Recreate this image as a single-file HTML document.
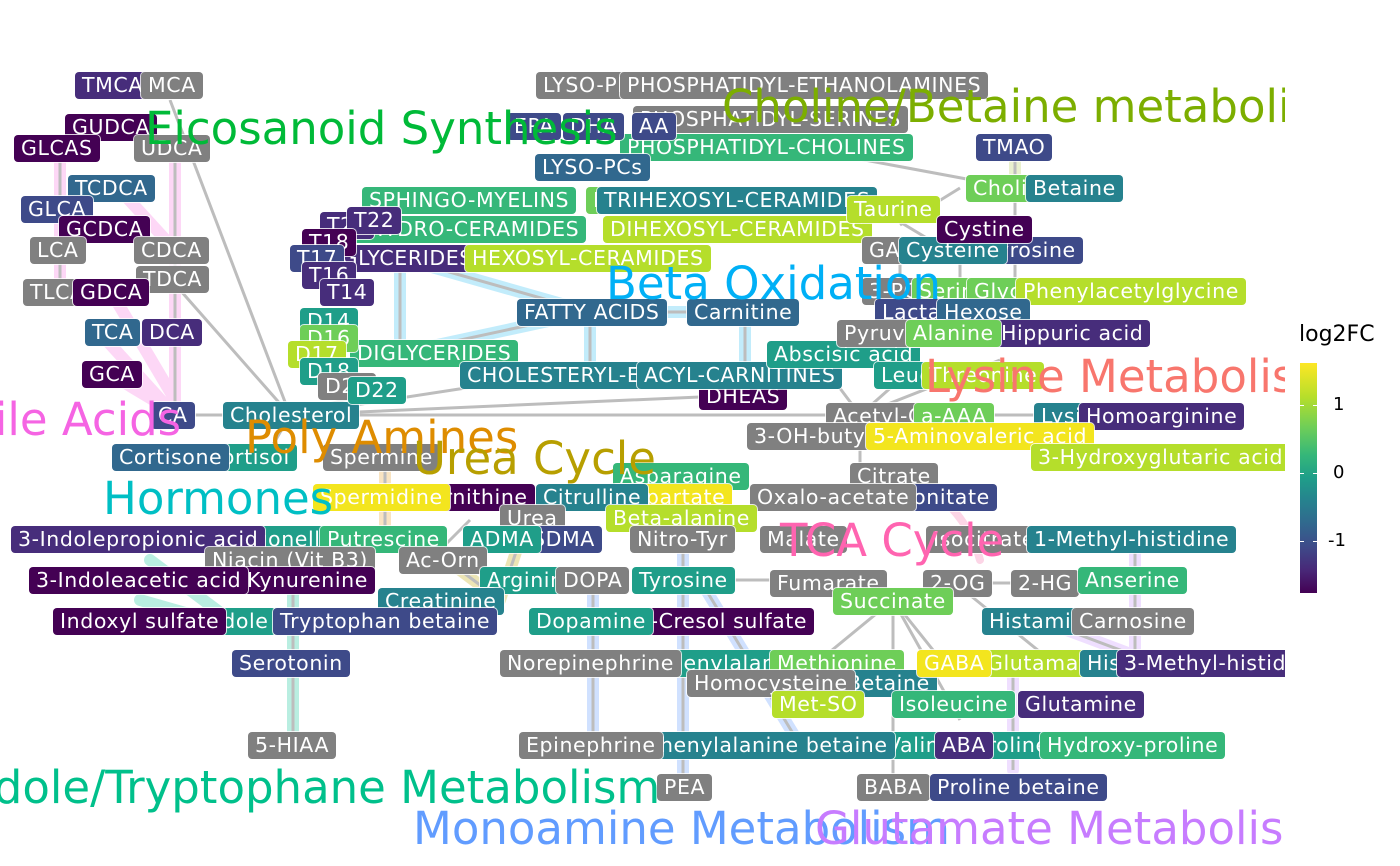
<!DOCTYPE html>
<html><head><meta charset="utf-8"><style>
body{margin:0;width:1400px;height:866px;background:#fff;overflow:hidden;position:relative;font-family:"DejaVu Sans","Liberation Sans",sans-serif}
#plot{position:absolute;left:0;top:0;width:1285px;height:866px;overflow:hidden}
.n{position:absolute;height:27px;line-height:27px;padding:0 7px;color:#fff;font-size:20.5px;letter-spacing:0.6px;border-radius:4px;white-space:nowrap;box-shadow:0 0 0 1px rgba(255,255,255,.8)}
.g{background:#808080}.v0{background:#440154}.v1{background:#472d7b}.v2{background:#3e4a89}.v3{background:#31688e}.v4{background:#26828e}.v5{background:#1f9e89}.v6{background:#35b779}.v7{background:#6ece58}.v8{background:#b5de2b}.v9{background:#f3e51e}
.t{position:absolute;font-size:45px;white-space:nowrap;line-height:1}
</style></head><body>
<div id="plot">
<svg width="1285" height="866" style="position:absolute;left:0;top:0">
<g stroke-linecap="round" fill="none" opacity="0.55">
<g stroke="#fbb6ef" stroke-width="12">
<path d="M60 150V290M175 150V415M120 190L175 250M110 290L175 400M100 333L170 410M110 374L170 410"/>
</g>
<g stroke="#8fdcf7" stroke-width="12">
<path d="M400 258V353M590 312V375M745 312V375M590 312H745M400 258L590 312M400 353L590 312"/>
</g>
<g stroke="#f5cf92" stroke-width="12"><path d="M385 457V540"/></g>
<g stroke="#ddd07a" stroke-width="12"><path d="M420 540L500 600M520 540L500 600"/></g>
<g stroke="#7fe0c8" stroke-width="12"><path d="M293 580V745M150 560L230 620M140 600L210 620"/></g>
<g stroke="#a9c8ff" stroke-width="12"><path d="M593 580V745M683 540V785M700 580L800 745"/></g>
<g stroke="#fbb3d2" stroke-width="8"><path d="M870 470A120 120 0 0 1 980 560"/></g>
<g stroke="#e1c4ff" stroke-width="12"><path d="M1013 660V770M1135 540V665M1040 620L1160 665"/></g>
<g stroke="#d8e6a8" stroke-width="12"><path d="M1015 147V190"/></g>
</g>
<g stroke="#bdbdbd" stroke-width="3" fill="none">
<path d="M60 150V290M175 150V415M170 100L290 415M180 290L290 415M170 415H290M290 415L270 450"/>
<path d="M290 415H860M290 415L550 375M290 415L745 395M290 415L380 390"/>
<path d="M400 258V353M590 312V375M745 312V375M590 312H745M400 258L590 312M400 353L590 312"/>
<path d="M800 148L1015 188M1015 147V320M960 188L900 225M880 210L930 240M900 250V330M960 250V330"/>
<path d="M860 415L905 375M860 415L830 375M860 415L1000 360M860 415H1080M860 415V480"/>
<path d="M385 457V540M420 540L500 600M520 540L500 600M470 520L430 560"/>
<path d="M293 580V745M593 580V745M683 540V785M700 580L800 745M735 580H830"/>
<path d="M893 600V785M893 600L820 660M893 600L945 665M893 600L960 720M955 583L1050 660M1013 660V770M1135 540V665M1040 620L1160 665M960 583H1050"/>
</g>
</svg>

<div class="n v1" style="left:75px;top:72px">TMCA</div>
<div class="n g" style="left:141px;top:72px">MCA</div>
<div class="n v0" style="left:65px;top:114px">GUDCA</div>
<div class="n v0" style="left:14px;top:135px">GLCAS</div>
<div class="n g" style="left:134px;top:135px">UDCA</div>
<div class="n v3" style="left:68px;top:175px">TCDCA</div>
<div class="n v2" style="left:21px;top:196px">GLCA</div>
<div class="n v0" style="left:59px;top:216px">GCDCA</div>
<div class="n g" style="left:30px;top:237px">LCA</div>
<div class="n g" style="left:134px;top:237px">CDCA</div>
<div class="n g" style="left:136px;top:266px">TDCA</div>
<div class="n g" style="left:23px;top:279px">TLCA</div>
<div class="n v0" style="left:73px;top:279px">GDCA</div>
<div class="n v3" style="left:85px;top:319px">TCA</div>
<div class="n v1" style="left:142px;top:319px">DCA</div>
<div class="n v0" style="left:82px;top:361px">GCA</div>
<div class="n v2" style="left:151px;top:402px">CA</div>
<div class="n v4" style="left:223px;top:402px">Cholesterol</div>

<div class="n g" style="left:536px;top:72px">LYSO-PEs</div>
<div class="n g" style="left:620px;top:72px">PHOSPHATIDYL-ETHANOLAMINES</div>
<div class="n g" style="left:633px;top:106px">PHOSPHATIDYL-SERINES</div>
<div class="n v6" style="left:620px;top:134px">PHOSPHATIDYL-CHOLINES</div>
<div class="n v2" style="left:507px;top:113px">EPA</div>
<div class="n v2" style="left:563px;top:113px">DHA</div>
<div class="n v2" style="left:632px;top:113px">AA</div>
<div class="n v3" style="left:535px;top:154px">LYSO-PCs</div>
<div class="n v6" style="left:362px;top:187px">SPHINGO-MYELINS</div>
<div class="n v7" style="left:586px;top:187px">M</div>
<div class="n v4" style="left:597px;top:187px">TRIHEXOSYL-CERAMIDES</div>
<div class="n v6" style="left:338px;top:216px">DIHYDRO-CERAMIDES</div>
<div class="n v8" style="left:603px;top:216px">DIHEXOSYL-CERAMIDES</div>
<div class="n v8" style="left:847px;top:196px">Taurine</div>
<div class="n v1" style="left:300px;top:245px">TRIGLYCERIDES</div>
<div class="n v8" style="left:465px;top:245px">HEXOSYL-CERAMIDES</div>
<div class="n v1" style="left:320px;top:212px">T20</div>
<div class="n v1" style="left:347px;top:207px">T22</div>
<div class="n v0" style="left:302px;top:229px">T18</div>
<div class="n v2" style="left:290px;top:245px">T17</div>
<div class="n v1" style="left:302px;top:262px">T16</div>
<div class="n v1" style="left:320px;top:279px">T14</div>
<div class="n v6" style="left:350px;top:340px">DIGLYCERIDES</div>
<div class="n v5" style="left:300px;top:308px">D14</div>
<div class="n v7" style="left:300px;top:325px">D16</div>
<div class="n v8" style="left:288px;top:341px">D17</div>
<div class="n v5" style="left:300px;top:358px">D18</div>
<div class="n g" style="left:318px;top:373px">D20</div>
<div class="n v5" style="left:348px;top:377px">D22</div>
<div class="n v3" style="left:517px;top:299px">FATTY ACIDS</div>
<div class="n v3" style="left:687px;top:299px">Carnitine</div>
<div class="n v0" style="left:699px;top:383px">DHEAS</div>
<div class="n v4" style="left:460px;top:362px">CHOLESTERYL-ESTERS</div>
<div class="n v4" style="left:637px;top:362px">ACYL-CARNITINES</div>

<div class="n v2" style="left:976px;top:134px">TMAO</div>
<div class="n v7" style="left:966px;top:175px">Choline</div>
<div class="n v4" style="left:1026px;top:175px">Betaine</div>
<div class="n g" style="left:862px;top:237px">GABA</div>
<div class="n v2" style="left:980px;top:237px">Tyrosine</div>
<div class="n v4" style="left:899px;top:237px">Cysteine</div>
<div class="n v0" style="left:937px;top:216px">Cystine</div>
<div class="n g" style="left:862px;top:278px">3-PG</div>
<div class="n v7" style="left:912px;top:278px">Serine</div>
<div class="n v7" style="left:967px;top:278px">Glycine</div>
<div class="n v8" style="left:1016px;top:278px">Phenylacetylglycine</div>
<div class="n v2" style="left:875px;top:299px">Lactate</div>
<div class="n v3" style="left:937px;top:299px">Hexose</div>
<div class="n v5" style="left:767px;top:341px">Abscisic acid</div>
<div class="n g" style="left:837px;top:320px">Pyruvate</div>
<div class="n v1" style="left:994px;top:320px">Hippuric acid</div>
<div class="n v7" style="left:906px;top:320px">Alanine</div>
<div class="n v5" style="left:874px;top:362px">Leucine</div>
<div class="n v8" style="left:922px;top:362px">Threonine</div>
<div class="n g" style="left:826px;top:403px">Acetyl-CoA</div>
<div class="n v7" style="left:914px;top:403px">a-AAA</div>
<div class="n v4" style="left:1034px;top:403px">Lysine</div>
<div class="n v1" style="left:1079px;top:403px">Homoarginine</div>
<div class="n g" style="left:747px;top:423px">3-OH-butyrate</div>
<div class="n v9" style="left:866px;top:423px">5-Aminovaleric acid</div>
<div class="n v8" style="left:1031px;top:444px">3-Hydroxyglutaric acid</div>

<div class="n v5" style="left:200px;top:444px">Cortisol</div>
<div class="n v3" style="left:112px;top:444px">Cortisone</div>
<div class="n g" style="left:323px;top:444px">Spermine</div>
<div class="n g" style="left:850px;top:463px">Citrate</div>
<div class="n v6" style="left:613px;top:463px">Asparagine</div>
<div class="n v9" style="left:613px;top:484px">Aspartate</div>
<div class="n v0" style="left:420px;top:484px">Ornithine</div>
<div class="n v9" style="left:313px;top:484px">Spermidine</div>
<div class="n v4" style="left:536px;top:484px">Citrulline</div>
<div class="n v2" style="left:880px;top:484px">Aconitate</div>
<div class="n g" style="left:750px;top:484px">Oxalo-acetate</div>
<div class="n g" style="left:500px;top:505px">Urea</div>
<div class="n v8" style="left:606px;top:505px">Beta-alanine</div>
<div class="n v5" style="left:222px;top:526px">Trigonelline</div>
<div class="n v6" style="left:320px;top:526px">Putrescine</div>
<div class="n v1" style="left:11px;top:526px">3-Indolepropionic acid</div>
<div class="n v2" style="left:525px;top:526px">SDMA</div>
<div class="n v5" style="left:463px;top:526px">ADMA</div>
<div class="n g" style="left:630px;top:526px">Nitro-Tyr</div>
<div class="n g" style="left:760px;top:526px">Malate</div>
<div class="n g" style="left:926px;top:526px">Isocitrate</div>
<div class="n v4" style="left:1027px;top:526px">1-Methyl-histidine</div>
<div class="n g" style="left:205px;top:547px">Niacin (Vit B3)</div>
<div class="n g" style="left:399px;top:547px">Ac-Orn</div>
<div class="n v0" style="left:240px;top:567px">Kynurenine</div>
<div class="n v0" style="left:29px;top:567px">3-Indoleacetic acid</div>
<div class="n v5" style="left:480px;top:567px">Arginine</div>
<div class="n g" style="left:556px;top:567px">DOPA</div>
<div class="n v5" style="left:632px;top:567px">Tyrosine</div>
<div class="n g" style="left:770px;top:570px">Fumarate</div>
<div class="n g" style="left:923px;top:570px">2-OG</div>
<div class="n g" style="left:1011px;top:570px">2-HG</div>
<div class="n v6" style="left:1078px;top:567px">Anserine</div>
<div class="n g" style="left:440px;top:588px">SAP</div>
<div class="n v4" style="left:378px;top:588px">Creatinine</div>
<div class="n v7" style="left:833px;top:588px">Succinate</div>
<div class="n v5" style="left:195px;top:608px">Indole</div>
<div class="n v0" style="left:53px;top:608px">Indoxyl sulfate</div>
<div class="n v2" style="left:273px;top:608px">Tryptophan betaine</div>
<div class="n v0" style="left:630px;top:608px">p-Cresol sulfate</div>
<div class="n v5" style="left:529px;top:608px">Dopamine</div>
<div class="n v4" style="left:982px;top:608px">Histamine</div>
<div class="n g" style="left:1072px;top:608px">Carnosine</div>
<div class="n v2" style="left:232px;top:650px">Serotonin</div>
<div class="n v5" style="left:650px;top:650px">Phenylalanine</div>
<div class="n v7" style="left:770px;top:650px">Methionine</div>
<div class="n g" style="left:500px;top:650px">Norepinephrine</div>
<div class="n v4" style="left:840px;top:670px">Betaine</div>
<div class="n g" style="left:687px;top:670px">Homocysteine</div>
<div class="n v8" style="left:980px;top:650px">Glutamate</div>
<div class="n v9" style="left:917px;top:650px">GABA</div>
<div class="n v4" style="left:1080px;top:650px">His</div>
<div class="n v1" style="left:1117px;top:650px">3-Methyl-histidine</div>
<div class="n v8" style="left:772px;top:691px">Met-SO</div>
<div class="n v6" style="left:892px;top:691px">Isoleucine</div>
<div class="n v1" style="left:1018px;top:691px">Glutamine</div>
<div class="n g" style="left:248px;top:732px">5-HIAA</div>
<div class="n v5" style="left:880px;top:732px">Valine</div>
<div class="n v4" style="left:640px;top:732px">Phenylalanine betaine</div>
<div class="n g" style="left:519px;top:732px">Epinephrine</div>
<div class="n v5" style="left:968px;top:732px">Proline</div>
<div class="n v1" style="left:935px;top:732px">ABA</div>
<div class="n v6" style="left:1040px;top:732px">Hydroxy-proline</div>
<div class="n g" style="left:657px;top:774px">PEA</div>
<div class="n g" style="left:857px;top:774px">BABA</div>
<div class="n v2" style="left:930px;top:774px">Proline betaine</div>

<div class="t" style="left:-36px;top:397px;color:#f564e3">Bile Acids</div>
<div class="t" style="left:145px;top:106px;color:#00ba38">Eicosanoid Synthesis</div>
<div class="t" style="left:722px;top:84px;color:#7cae00">Choline/Betaine metabolism</div>
<div class="t" style="left:606px;top:261px;color:#00b0f6">Beta Oxidation</div>
<div class="t" style="left:925px;top:354px;color:#f8766d">Lysine Metabolism</div>
<div class="t" style="left:245px;top:415px;color:#de8c00">Poly Amines</div>
<div class="t" style="left:413px;top:436px;color:#b79f00">Urea Cycle</div>
<div class="t" style="left:103px;top:476px;color:#00bfc4">Hormones</div>
<div class="t" style="left:780px;top:518px;color:#ff64b0">TCA Cycle</div>
<div class="t" style="left:-48px;top:765px;color:#00c08b">Indole/Tryptophane Metabolism</div>
<div class="t" style="left:413px;top:806px;color:#619cff">Monoamine Metabolism</div>
<div class="t" style="left:815px;top:806px;color:#c77cff">Glutamate Metabolism</div>
</div>

<div style="position:absolute;left:1299px;top:322px;font-size:22px;color:#000">log2FC</div>
<div style="position:absolute;left:1300px;top:363px;width:17px;height:230px;background:linear-gradient(to bottom,#fde725,#b5de2b 15%,#6ece58 28%,#35b779 40%,#1f9e89 50%,#26828e 60%,#31688e 70%,#3e4a89 80%,#482878 90%,#440154)"></div>
<div style="position:absolute;left:1300px;top:405px;width:4px;height:1px;background:#fff"></div>
<div style="position:absolute;left:1313px;top:405px;width:4px;height:1px;background:#fff"></div>
<div style="position:absolute;left:1300px;top:473px;width:4px;height:1px;background:#fff"></div>
<div style="position:absolute;left:1313px;top:473px;width:4px;height:1px;background:#fff"></div>
<div style="position:absolute;left:1300px;top:541px;width:4px;height:1px;background:#fff"></div>
<div style="position:absolute;left:1313px;top:541px;width:4px;height:1px;background:#fff"></div>
<div style="position:absolute;left:1333px;top:394px;font-size:18px">1</div>
<div style="position:absolute;left:1333px;top:462px;font-size:18px">0</div>
<div style="position:absolute;left:1328px;top:530px;font-size:18px">-1</div>
</body></html>
